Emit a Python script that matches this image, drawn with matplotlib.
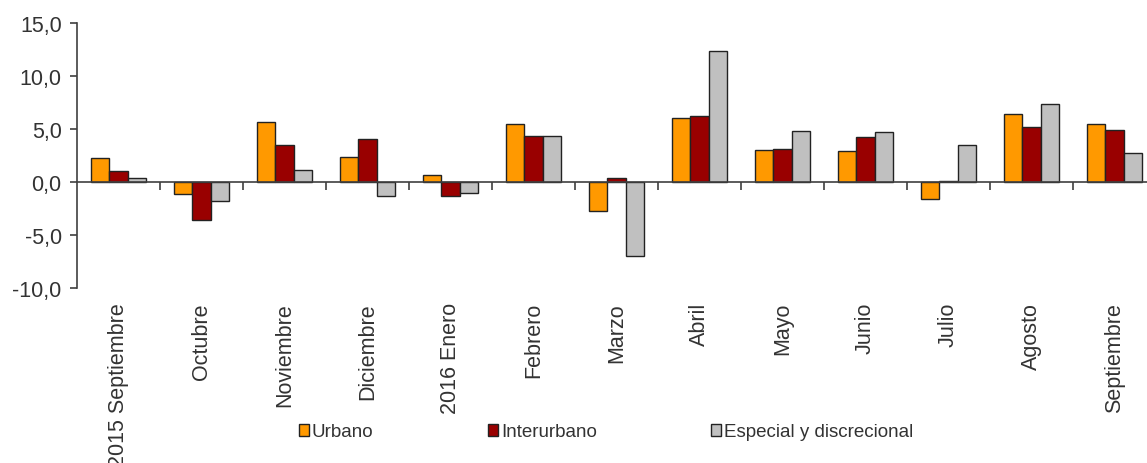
import numpy as np
import matplotlib
matplotlib.use('Agg')
import matplotlib.pyplot as plt
import matplotlib.transforms as mtransforms

plt.rcParams['font.family'] = ['Liberation Sans', 'DejaVu Sans']

meses = ['2015 Septiembre', 'Octubre', 'Noviembre', 'Diciembre', '2016 Enero',
         'Febrero', 'Marzo', 'Abril', 'Mayo', 'Junio', 'Julio', 'Agosto', 'Septiembre']
urbano = [2.3, -1.1, 5.7, 2.4, 0.7, 5.5, -2.7, 6.0, 3.0, 2.9, -1.6, 6.4, 5.5]
interurbano = [1.0, -3.6, 3.5, 4.1, -1.3, 4.3, 0.4, 6.2, 3.1, 4.2, 0.1, 5.2, 4.9]
especial = [0.4, -1.8, 1.1, -1.3, -1.0, 4.3, -7.0, 12.4, 4.8, 4.7, 3.5, 7.4, 2.7]
y_ticks = [-10, -5, 0, 5, 10, 15]

series = [('Urbano', urbano, '#FF9900'),
          ('Interurbano', interurbano, '#990000'),
          ('Especial y discrecional', especial, '#C0C0C0')]

txt_color = '#333333'
fig = plt.figure(figsize=(11.47, 4.64), dpi=100)
ax = fig.add_axes([77 / 1147, 1 - 289 / 464, 1079 / 1147, 265 / 464])

x = np.arange(len(meses))
w = 0.221
for k, (name, vals, col) in enumerate(series):
    ax.bar(x + (k - 1) * w, vals, width=w, color=col, edgecolor='#222222',
           linewidth=1.0, label=name, zorder=2)

ax.set_xlim(-0.5, len(meses) - 0.5)
ax.set_ylim(-10, 15)
ax.set_yticks(y_ticks)
ax.set_yticklabels([f'{v:.1f}'.replace('.', ',') for v in y_ticks])
ax.tick_params(axis='y', direction='out', length=5, width=1.2, color='#404040',
               labelsize=15.5, labelcolor=txt_color, pad=6)

# zero line with boundary ticks
for s in ['top', 'right']:
    ax.spines[s].set_visible(False)
ax.spines['left'].set_color('#404040')
ax.spines['left'].set_linewidth(1.2)
ax.spines['bottom'].set_position(('data', 0))
ax.spines['bottom'].set_color('#404040')
ax.spines['bottom'].set_linewidth(1.2)
ax.spines['bottom'].set_zorder(3)
ax.set_xticks(x[:-1] + 0.5)
ax.set_xticklabels([])
ax.tick_params(axis='x', direction='out', length=6, width=1.2, color='#404040')

# category labels below the plot
trans = mtransforms.blended_transform_factory(ax.transData, ax.transAxes)
for i, m in enumerate(meses):
    ax.text(i, -0.053, m, transform=trans, rotation=90, ha='center', va='top',
            fontsize=15.5, color=txt_color)

fig.legend(loc='center', bbox_to_anchor=(606 / 1147, 1 - 433 / 464), ncol=3,
           frameon=False, fontsize=13.5, handlelength=0.55, handleheight=0.55,
           handletextpad=0.15, columnspacing=6.1, labelcolor=txt_color)

fig.savefig('out.png', dpi=100)
